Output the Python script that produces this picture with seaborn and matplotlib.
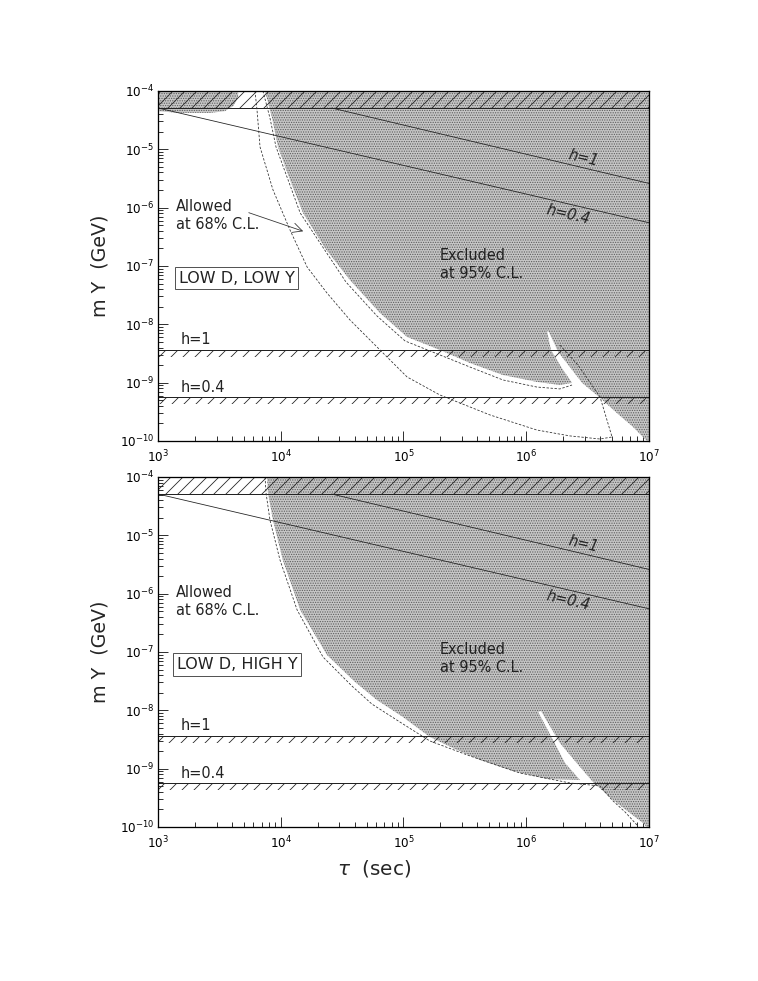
import matplotlib
matplotlib.use("Agg")
import matplotlib.pyplot as plt
import seaborn as sns
import pandas as pd
from matplotlib.ticker import FixedLocator, LogLocator, NullFormatter, FixedFormatter

# ---------------- data ----------------
xticks = [1e3, 1e4, 1e5, 1e6, 1e7]
xtick_labels = [r"$10^{3}$", r"$10^{4}$", r"$10^{5}$", r"$10^{6}$", r"$10^{7}$"]
yticks = [1e-10, 1e-9, 1e-8, 1e-7, 1e-6, 1e-5, 1e-4]
ytick_labels = [r"$10^{-10}$", r"$10^{-9}$", r"$10^{-8}$", r"$10^{-7}$",
                r"$10^{-6}$", r"$10^{-5}$", r"$10^{-4}$"]

tau_range = [1e3, 1e7]
band_top = [5.1e-5, 1e-4]
band_h1 = [2.7e-9, 3.6e-9]
band_h04 = [4.3e-10, 5.6e-10]

line_h1_tau = [2.6e4, 1e7]
line_h1_m = [5.1e-5, 2.6e-6]
line_h04_tau = [1e3, 1e7]
line_h04_m = [5.1e-5, 5.5e-7]

# LOW D, LOW Y : excluded region (95% C.L.)
exc1_tau = [7.45e3, 1e7, 1e7, 9.6e6, 7.41e6, 5.48e6, 3.99e6, 2.85e6, 1.82e6, 1.53e6,
            1.476e6, 1.59e6, 1.95e6, 2.36e6, 1.88e6, 1.22e6, 6.47e5, 3.48e5, 1.98e5,
            1.07e5, 6.44e4, 3.66e4, 2.29e4, 1.52e4, 1.19e4, 9.5e3, 8.5e3]
exc1_m = [1e-4, 1e-4, 1e-10, 1e-10, 1.74e-10, 3.0e-10, 5.5e-10, 9.9e-10, 3.35e-9, 7.4e-9,
          7.67e-9, 3.63e-9, 1.78e-9, 9.9e-10, 9.1e-10, 1.03e-9, 1.35e-9, 2.17e-9, 3.63e-9,
          6.06e-9, 1.56e-8, 5.75e-8, 2.03e-7, 8.1e-7, 2.98e-6, 1.1e-5, 3.44e-5]
blob1_tau = [1e3, 4.5e3, 4.5e3, 4.1e3, 3.5e3, 2.65e3, 1.5e3, 1e3]
blob1_m = [1e-4, 1e-4, 7.6e-5, 5.5e-5, 4.5e-5, 4.2e-5, 4.2e-5, 4.5e-5]
# 68% C.L. contours
outer1_tau = [6.17e3, 6.41e3, 6.78e3, 8.65e3, 1.19e4, 1.64e4, 2.38e4, 3.66e4, 5.86e4,
              1.07e5, 1.98e5, 5.07e5, 1.22e6, 2.27e6, 3.99e6, 5.0e6, 3.99e6, 2.64e6, 1.88e6]
outer1_m = [1e-4, 4.72e-5, 1.1e-5, 2.01e-6, 4.14e-7, 9.6e-8, 3.44e-8, 1.19e-8, 4.42e-9,
            1.25e-9, 6.14e-10, 2.79e-10, 1.54e-10, 1.22e-10, 1.08e-10, 1.17e-10, 5.7e-10,
            2.0e-9, 4.4e-9]
inner1_tau = [7.16e3, 8.17e3, 9.15e3, 1.44e4, 3.4e4, 6.08e4, 1.03e5, 1.98e5, 3.48e5,
              6.47e5, 1.22e6, 1.88e6, 2.36e6]
inner1_m = [1e-4, 3.44e-5, 1.1e-5, 8.1e-7, 5.3e-8, 1.39e-8, 5.18e-9, 2.98e-9, 1.85e-9,
            1.11e-9, 8.4e-10, 7.8e-10, 9.1e-10]

# LOW D, HIGH Y : excluded region (95% C.L.)
exc2_tau = [7.73e3, 1e7, 1e7, 9.6e6, 8.93e6, 5.09e6, 3.5e6, 2.74e6, 1.88e6, 1.32e6,
            1.25e6, 1.62e6, 2.07e6, 2.74e6, 1.48e6, 7.8e5, 4.2e5, 2.63e5, 1.64e5, 9.9e4,
            6.08e4, 4.03e4, 2.38e4, 1.44e4, 1.04e4, 8.65e3, 7.87e3]
exc2_m = [1e-4, 1e-4, 1e-10, 1e-10, 1.17e-10, 2.9e-10, 5.9e-10, 1.07e-9, 2.75e-9, 9.73e-9,
          9.35e-9, 3.35e-9, 1.25e-9, 6.38e-10, 6.65e-10, 9.1e-10, 1.41e-9, 2.17e-9, 3.49e-9,
          7.67e-9, 1.5e-8, 3.06e-8, 8.9e-8, 5.25e-7, 3.78e-6, 1.83e-5, 5.32e-5]
outer2_tau = [7.45e3, 7.59e3, 8.17e3, 9.86e3, 1.36e4, 2.21e4, 3.8e4, 5.53e4, 9.35e4,
              1.64e5, 3.48e5, 8.9e5, 2.27e6, 3.99e6, 5.0e6, 6.38e6, 7.98e6]
outer2_m = [1e-4, 5.32e-5, 1.83e-5, 3.78e-6, 5.25e-7, 8.2e-8, 2.61e-8, 1.28e-8, 6.3e-9,
            2.98e-9, 1.65e-9, 8.4e-10, 5.68e-10, 5.05e-10, 2.9e-10, 1.81e-10, 1.08e-10]

panels = [
    dict(title="LOW D, LOW Y", exc=(exc1_tau, exc1_m), blob=(blob1_tau, blob1_m),
         dashed=[(outer1_tau, outer1_m), (inner1_tau, inner1_m)], arrow=True),
    dict(title="LOW D, HIGH Y", exc=(exc2_tau, exc2_m), blob=None,
         dashed=[(outer2_tau, outer2_m)], arrow=False),
]

# ---------------- style ----------------
sns.set_theme(style="ticks")
plt.rcParams["font.family"] = ["DejaVu Sans"]
plt.rcParams["mathtext.fontset"] = "dejavusans"
plt.rcParams["hatch.linewidth"] = 0.8
plt.rcParams["axes.linewidth"] = 1.3
plt.rcParams["axes.edgecolor"] = "black"

GRAY_FC = "#c6c6c6"
GRAY_HC = "#5c5c5c"
FS = 14.5

DPI = 72
fig = plt.figure(figsize=(758 / DPI, 981 / DPI), dpi=DPI, facecolor="white")
axes = [fig.add_axes([0.2084, 0.5505, 0.6478, 0.3568]),
        fig.add_axes([0.2084, 0.1570, 0.6478, 0.3568])]

for ax, p in zip(axes, panels):
    ax.set_xscale("log")
    ax.set_yscale("log")
    ax.set_xlim(tau_range)
    ax.set_ylim(1e-10, 1e-4)
    ax.set_facecolor("white")

    # excluded region
    ax.fill(*p["exc"], facecolor=GRAY_FC, edgecolor=GRAY_HC, hatch=".....",
            lw=0, zorder=1)
    if p["blob"] is not None:
        ax.fill(*p["blob"], facecolor=GRAY_FC, edgecolor=GRAY_HC, hatch=".....",
                lw=0, zorder=1)

    # hatched bands
    for lo, hi, edge in [(band_top[0], band_top[1], band_top[0]),
                         (band_h1[0], band_h1[1], band_h1[1]),
                         (band_h04[0], band_h04[1], band_h04[1])]:
        ax.fill_between(tau_range, [lo, lo], [hi, hi], facecolor="none",
                        edgecolor="#222222", hatch="//", lw=0, zorder=2)
        sns.lineplot(x=tau_range, y=[edge, edge], ax=ax, color="#222222", lw=1.0,
                     sort=False, estimator=None, zorder=3)

    # diagonal lines
    sns.lineplot(x=line_h1_tau, y=line_h1_m, ax=ax, color="#222222", lw=0.8,
                 sort=False, estimator=None, zorder=3)
    sns.lineplot(x=line_h04_tau, y=line_h04_m, ax=ax, color="#222222", lw=0.8,
                 sort=False, estimator=None, zorder=3)

    # 68% dashed contours
    for dt, dm in p["dashed"]:
        df = pd.DataFrame({"tau": dt, "m": dm})
        sns.lineplot(data=df, x="tau", y="m", ax=ax, color="#333333", lw=0.8,
                     linestyle=(0, (3, 2)), sort=False, estimator=None, zorder=3)

    # labels
    ax.text(1.40e3, 7.2e-7, "Allowed\nat 68% C.L.", fontsize=FS, va="center",
            ha="left", linespacing=1.25, color="#222222", zorder=5)
    if p["arrow"]:
        ax.annotate("", xy=(1.58e4, 3.83e-7), xytext=(5.3e3, 8.4e-7),
                    arrowprops=dict(arrowstyle="->,head_length=0.8,head_width=0.4",
                                    color="#333333", lw=0.8), zorder=5)
    ax.text(1.98e5, 1.04e-7 if p["arrow"] else 7.6e-8, "Excluded\nat 95% C.L.",
            fontsize=FS, va="center", ha="left", linespacing=1.25, color="#222222",
            zorder=5)
    ax.text(4.4e3, 6.1e-8, p["title"], fontsize=16, va="center", ha="center",
            color="#222222", zorder=5,
            bbox=dict(boxstyle="square,pad=0.22", fc="white", ec="#555555", lw=1.0))
    ax.text(1.54e3, 5.4e-9, "h=1", fontsize=FS, va="center", ha="left",
            color="#222222", zorder=5)
    ax.text(1.54e3, 8.3e-10, "h=0.4", fontsize=FS, va="center", ha="left",
            color="#222222", zorder=5)
    ax.text(2.9e6, 7.2e-6, "h=1", fontsize=FS, va="center", ha="center",
            rotation=-13, style="italic", color="#222222", zorder=5)
    ax.text(2.2e6, 7.7e-7, "h=0.4", fontsize=FS, va="center", ha="center",
            rotation=-13, style="italic", color="#222222", zorder=5)

    # axes, ticks
    ax.xaxis.set_major_locator(FixedLocator(xticks))
    ax.xaxis.set_major_formatter(FixedFormatter(xtick_labels))
    ax.yaxis.set_major_locator(FixedLocator(yticks))
    ax.yaxis.set_major_formatter(FixedFormatter(ytick_labels))
    ax.xaxis.set_minor_locator(LogLocator(base=10, subs=range(2, 10), numticks=20))
    ax.yaxis.set_minor_locator(LogLocator(base=10, subs=range(2, 10), numticks=20))
    ax.xaxis.set_minor_formatter(NullFormatter())
    ax.yaxis.set_minor_formatter(NullFormatter())
    ax.tick_params(which="both", direction="in", right=True, top=False,
                   labelsize=12, width=0.8, colors="black")
    ax.tick_params(which="major", length=10)
    ax.tick_params(axis="y", which="major", pad=4)
    ax.tick_params(axis="x", which="major", pad=8)
    ax.tick_params(which="minor", length=5)
    ax.set_ylabel("m Y  (GeV)", fontsize=19, labelpad=10)
    ax.set_xlabel("")
    for s in ax.spines.values():
        s.set_visible(True)
        s.set_zorder(6)

axes[1].set_xlabel(r"$\tau$  (sec)", fontsize=20)
axes[1].xaxis.set_label_coords(0.44, -0.088)

fig.savefig("out.png", dpi=DPI, facecolor="white")
